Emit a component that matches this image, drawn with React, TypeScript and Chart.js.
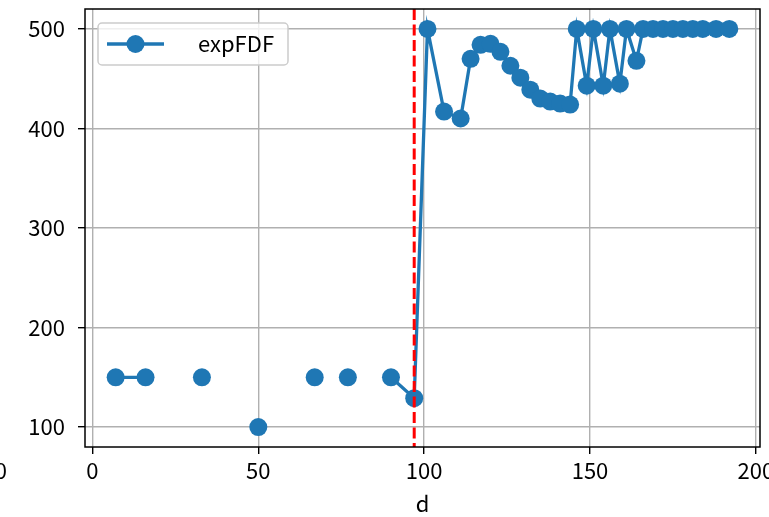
import React, { useEffect, useRef } from "react";
import { Chart, registerables } from "chart.js";

Chart.register(...registerables);

// d values (null entries in expFDF mark gaps in the measured series)
const dValues = [7, 16, 24, 33, 41, 50, 58, 67, 72, 77, 83, 90, 97, 101, 106, 111, 114, 117, 120, 123, 126, 129, 132, 135, 138, 141, 144, 146, 149, 151, 154, 156, 159, 161, 164, 166, 169, 172, 175, 178, 181, 184, 188, 192];
const expFDF: (number | null)[] = [150, 150, null, 150, null, 100, null, 150, null, 150, null, 150, 129, 500, 417, 410, 470, 484, 485, 477, 463, 451, 439, 430, 427, 425, 424, 500, 443, 500, 443, 500, 445, 500, 468, 500, 500, 500, 500, 500, 500, 500, 500, 500];
const thresholdD = 97;
const xTicks = [0, 50, 100, 150, 200];
const yTicks = [100, 200, 300, 400, 500];
const seriesLabel = "expFDF";
const xTitle = "d";

const FONT = '"Noto Sans CJK JP", "Noto Sans", sans-serif';
const FS = 22;
const BLUE = "#1f77b4";

export default function App() {
  const ref = useRef<HTMLCanvasElement | null>(null);

  useEffect(() => {
    document.body.style.margin = "0";
    const canvas = ref.current;
    if (!canvas) return;

    const overlay = {
      id: "overlay",
      afterDatasetsDraw(chart: any) {
        const { ctx, chartArea, scales } = chart;
        ctx.save();
        // red dashed vertical line
        const xp = scales.x.getPixelForValue(thresholdD);
        ctx.strokeStyle = "red";
        ctx.lineWidth = 3;
        ctx.setLineDash([11, 4.5]);
        ctx.beginPath();
        ctx.moveTo(xp, chartArea.top);
        ctx.lineTo(xp, chartArea.bottom);
        ctx.stroke();
        ctx.setLineDash([]);
        // frame
        ctx.strokeStyle = "black";
        ctx.lineWidth = 1.5;
        ctx.strokeRect(chartArea.left, chartArea.top, chartArea.right - chartArea.left, chartArea.bottom - chartArea.top);
        // legend
        const lx = chartArea.left + 13, ly = chartArea.top + 14, lw = 190, lh = 42;
        ctx.beginPath();
        (ctx as any).roundRect(lx, ly, lw, lh, 4);
        ctx.fillStyle = "rgba(255,255,255,0.8)";
        ctx.fill();
        ctx.strokeStyle = "#cccccc";
        ctx.lineWidth = 1.5;
        ctx.stroke();
        const cy = ly + lh / 2;
        ctx.strokeStyle = BLUE;
        ctx.lineWidth = 3.3;
        ctx.beginPath();
        ctx.moveTo(lx + 9, cy);
        ctx.lineTo(lx + 66, cy);
        ctx.stroke();
        ctx.fillStyle = BLUE;
        ctx.beginPath();
        ctx.arc(lx + 37.5, cy, 9, 0, Math.PI * 2);
        ctx.fill();
        ctx.fillStyle = "black";
        ctx.font = `${FS}px ${FONT}`;
        ctx.textAlign = "left";
        ctx.textBaseline = "middle";
        ctx.fillText(seriesLabel, lx + 100, cy);
        // clipped label fragment at left edge
        ctx.textAlign = "right";
        ctx.fillText("0", 7, 471);
        ctx.restore();
      },
    };

    const chart = new Chart(canvas, {
      type: "line",
      data: {
        datasets: [
          {
            label: seriesLabel,
            data: dValues.map((d, i) => ({ x: d, y: expFDF[i] })) as any,
            borderColor: BLUE,
            backgroundColor: BLUE,
            borderWidth: 3.3,
            pointRadius: 9,
            pointHoverRadius: 9,
            pointBorderWidth: 0,
            pointBackgroundColor: BLUE,
            spanGaps: false,
            tension: 0,
          },
        ],
      },
      options: {
        responsive: false,
        animation: false,
        devicePixelRatio: 1,
        layout: { padding: { top: 9, right: 9, left: 0, bottom: 0 } },
        plugins: { legend: { display: false }, tooltip: { enabled: false } },
        scales: {
          x: {
            type: "linear",
            min: -2.25,
            max: 201.25,
            afterBuildTicks: (s: any) => { s.ticks = xTicks.map((v) => ({ value: v })); },
            afterFit: (s: any) => { s.height = 70; s.paddingLeft = 0; s.paddingRight = 0; },
            grid: { color: "#b0b0b0", lineWidth: 1.4, tickColor: "black", tickLength: 7, tickWidth: 1.4 },
            border: { display: false },
            ticks: { color: "black", font: { family: FONT, size: FS }, padding: 3, maxRotation: 0, autoSkip: false },
            title: { display: true, text: xTitle, color: "black", font: { family: FONT, size: FS }, padding: { top: 0, bottom: 0 } },
          },
          y: {
            type: "linear",
            min: 80,
            max: 520,
            afterBuildTicks: (s: any) => { s.ticks = yTicks.map((v) => ({ value: v })); },
            afterFit: (s: any) => { s.width = 85; s.paddingTop = 0; s.paddingBottom = 0; },
            grid: { color: "#b0b0b0", lineWidth: 1.4, tickColor: "black", tickLength: 7, tickWidth: 1.4 },
            border: { display: false },
            ticks: { color: "black", font: { family: FONT, size: FS }, padding: 13, autoSkip: false },
          },
        },
      },
      plugins: [overlay],
    } as any);

    return () => chart.destroy();
  }, []);

  return (
    <div style={{ position: "absolute", left: 0, top: 0, width: 769, height: 517, background: "white" }}>
      <canvas ref={ref} width={769} height={517} style={{ width: 769, height: 517, display: "block" }} />
    </div>
  );
}
